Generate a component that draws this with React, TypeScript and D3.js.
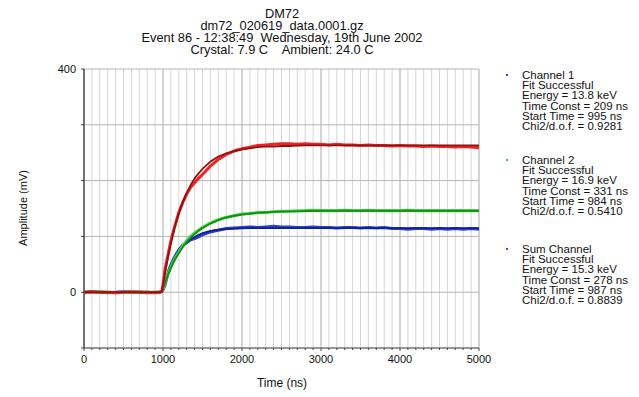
import React from "react";
import * as d3 from "d3";

const width = 639;
const height = 397;
const marginTop = 69;
const marginRight = 160;
const marginBottom = 49;
const marginLeft = 84;

// time axis shared by all traces (ns)
const time = [
  0, 100, 200, 300, 400, 500, 600, 700, 800, 900, 950, 985,
  1000, 1025, 1050, 1075, 1100, 1125, 1150,
  1200, 1250, 1300, 1350, 1400, 1450, 1500,
  1600, 1700, 1800, 1900, 2000, 2100, 2200, 2300, 2400, 2500, 2600, 2700, 2800, 2900, 3000,
  3100, 3200, 3300, 3400, 3500, 3600, 3700, 3800, 3900, 4000, 4100, 4200, 4300, 4400, 4500,
  4600, 4700, 4800, 4900, 5000,
];

// Channel 1 (mV)
const ch1Data = [
  0, 1, 0, -1, 0, 1, 0, 0, -1, 0, 0, 1,
  4, 12, 27, 40, 49, 57, 64,
  76, 84, 89, 94, 96, 99, 103,
  108, 111, 114, 115, 116, 117, 116, 117, 118, 117, 117, 116, 116, 117, 116,
  116, 115, 116, 116, 115, 116, 115, 116, 114, 114, 113, 114, 114, 113, 114,
  113, 114, 113, 114, 113,
];
const ch1Fit = [
  0, 0, 0, 0, 0, 0, 0, 0, 0, 0, 0, 0,
  3, 15, 27, 37, 46, 54, 61,
  72, 82, 89, 95, 99, 103, 106,
  110, 112, 113, 114, 114.5, 115, 115, 115, 115, 115, 115, 115, 115, 115, 115,
  115, 115, 115, 115, 115, 115, 115, 115, 115, 115, 115, 115, 115, 115, 115,
  115, 115, 115, 115, 115,
];

// Channel 2 (mV)
const ch2Data = [
  0, 0, 1, 0, -1, 0, 0, 1, 0, 0, 0, 1,
  5, 17, 28, 37, 45, 53, 60,
  72, 83, 92, 100, 106, 111, 116,
  124, 130, 134, 137, 140, 141, 143, 143, 144, 145, 145, 146, 146, 147, 146,
  146, 146, 147, 146, 146, 147, 146, 146, 146, 146, 147, 146, 146, 146, 146,
  146, 146, 146, 146, 146,
];
const ch2Fit = [
  0, 0, 0, 0, 0, 0, 0, 0, 0, 0, 0, 0,
  7, 17, 26, 35, 43, 51, 58,
  70, 81, 90, 98, 104, 110, 115,
  123, 129, 134, 137, 139, 141, 142, 143, 144, 144.5, 145, 145, 145.5, 145.5, 146,
  146, 146, 146, 146, 146, 146, 146, 146, 146, 146, 146, 146, 146, 146, 146,
  146, 146, 146, 146, 146,
];

// Sum channel (mV)
const sumData = [
  0, 1, 0, 0, -1, 0, 1, 0, 0, -1, 0, 1,
  14, 40, 58, 75, 92, 106, 119,
  143, 161, 176, 188, 196, 204, 211,
  226, 238, 247, 253, 257, 260, 263, 264, 265, 266, 266, 265, 266, 265, 265,
  264, 265, 264, 264, 263, 264, 263, 263, 262, 263, 262, 262, 261, 262, 261,
  261, 260, 261, 260, 259,
];
const sumFit = [
  0, 0, 0, 0, 0, 0, 0, 0, 0, 0, 0, 0,
  12, 34, 53, 71, 88, 103, 117,
  141, 161, 178, 192, 204, 213, 221,
  234, 243, 249, 253, 256, 258, 260, 261, 261, 262, 262, 262.5, 263, 263, 263,
  263, 263, 263, 263, 263, 263, 263, 263, 263, 263, 263, 263, 263, 263, 263,
  263, 263, 263, 263, 263,
];

const titleLines = [
  "DM72",
  "dm72_020619_data.0001.gz",
  "Event 86 - 12:38:49  Wednesday, 19th June 2002",
  "Crystal: 7.9 C    Ambient: 24.0 C",
];

const legend = [
  {
    name: "Channel 1",
    color: "#2a3fd0",
    lines: ["Fit Successful", "Energy = 13.8 keV", "Time Const = 209 ns", "Start Time = 995 ns", "Chi2/d.o.f. = 0.9281"],
  },
  {
    name: "Channel 2",
    color: "#33cc33",
    lines: ["Fit Successful", "Energy = 16.9 keV", "Time Const = 331 ns", "Start Time = 984 ns", "Chi2/d.o.f. = 0.5410"],
  },
  {
    name: "Sum Channel",
    color: "#e82626",
    lines: ["Fit Successful", "Energy = 15.3 keV", "Time Const = 278 ns", "Start Time = 987 ns", "Chi2/d.o.f. = 0.8839"],
  },
];
const legendTops = [79, 164, 253];

const xTicks = [0, 1000, 2000, 3000, 4000, 5000];
const yTickLabels = [0, 400];

const series = [
  { data: ch1Data, fit: ch1Fit, color: "#2a3fd0", fitColor: "#101f8a" },
  { data: ch2Data, fit: ch2Fit, color: "#33dd33", fitColor: "#168c16" },
  { data: sumData, fit: sumFit, color: "#ee2424", fitColor: "#8e1414" },
];

const font = "'Liberation Sans', Arial, Helvetica, sans-serif";

export default function App() {
  const x = d3.scaleLinear().domain([0, 5000]).range([marginLeft, width - marginRight]);
  const y = d3.scaleLinear().domain([-100, 400]).range([height - marginBottom, marginTop]);

  const line = (vals: number[]) =>
    d3
      .line<number>()
      .x((_, i) => x(time[i]))
      .y(d => y(d))(vals) as string;

  const minor = d3.range(0, 5001, 100);
  const hLines = d3.range(-100, 401, 100);

  return (
    <svg
      width={width}
      height={height}
      viewBox={`0 0 ${width} ${height}`}
      style={{ position: "absolute", left: 0, top: 0, background: "#fff" }}
      fontFamily={font}
    >
      <rect width={width} height={height} fill="#fff" />

      {/* titel */}
      <g transform="translate(282,0) scale(1.07,1)">
        {titleLines.map((t, i) => (
          <text key={i} x={0} y={18.5 + i * 12} fontSize={12} textAnchor="middle" fill="#111" xmlSpace="preserve">
            {t}
          </text>
        ))}
      </g>

      {/* grid */}
      {minor.map(t => (
        <line
          key={"v" + t}
          x1={x(t)}
          x2={x(t)}
          y1={y(400)}
          y2={y(-100)}
          stroke={t % 1000 === 0 ? "#a9a9a9" : "#d6d6d6"}
          strokeWidth={1}
        />
      ))}
      {hLines.map(v => (
        <line key={"h" + v} x1={x(0)} x2={x(5000)} y1={y(v)} y2={y(v)} stroke="#b4b4b4" strokeWidth={1} />
      ))}

      {/* ticks */}
      {minor.map(t => (
        <line key={"bt" + t} x1={x(t)} x2={x(t)} y1={y(-100)} y2={y(-100) + (t % 1000 === 0 ? 3 : 2)} stroke="#444" />
      ))}
      {hLines.map(v => (
        <line key={"lt" + v} x1={x(0) - 3} x2={x(0)} y1={y(v)} y2={y(v)} stroke="#444" />
      ))}
      <line x1={x(0)} x2={x(0)} y1={y(400)} y2={y(-100)} stroke="#333" strokeWidth={1.2} />
      <line x1={x(0)} x2={x(5000)} y1={y(-100)} y2={y(-100)} stroke="#555" strokeWidth={1} />

      {xTicks.map(t => (
        <text key={"xl" + t} x={x(t)} y={363} fontSize={11} textAnchor="middle" fill="#111">
          {t}
        </text>
      ))}
      {yTickLabels.map(v => (
        <text key={"yl" + v} x={76} y={y(v) + 4} fontSize={11} textAnchor="end" fill="#111">
          {v}
        </text>
      ))}

      <text x={282} y={387} fontSize={12} textAnchor="middle" fill="#111">
        Time (ns)
      </text>
      <text transform={`translate(27,208) rotate(-90)`} fontSize={11} textAnchor="middle" fill="#111">
        Amplitude (mV)
      </text>

      {/* traces */}
      {series.map((s, i) => (
        <g key={"s" + i}>
          <path d={line(s.data)} fill="none" stroke={s.color} strokeWidth={3} strokeLinejoin="round" />
          <path d={line(s.fit)} fill="none" stroke={s.fitColor} strokeWidth={1.8} strokeLinejoin="round" />
        </g>
      ))}

      {/* legend */}
      {legend.map((l, i) => (
        <g key={"lg" + i}>
          <rect x={506} y={legendTops[i] - 5} width={2} height={2} fill={l.color} />
          <g transform={`translate(522,${legendTops[i]}) scale(1.15,1)`}>
            {[l.name, ...l.lines].map((t, j) => (
              <text key={j} x={0} y={j * 10.2} fontSize={10} fill="#111">
                {t}
              </text>
            ))}
          </g>
        </g>
      ))}
    </svg>
  );
}
